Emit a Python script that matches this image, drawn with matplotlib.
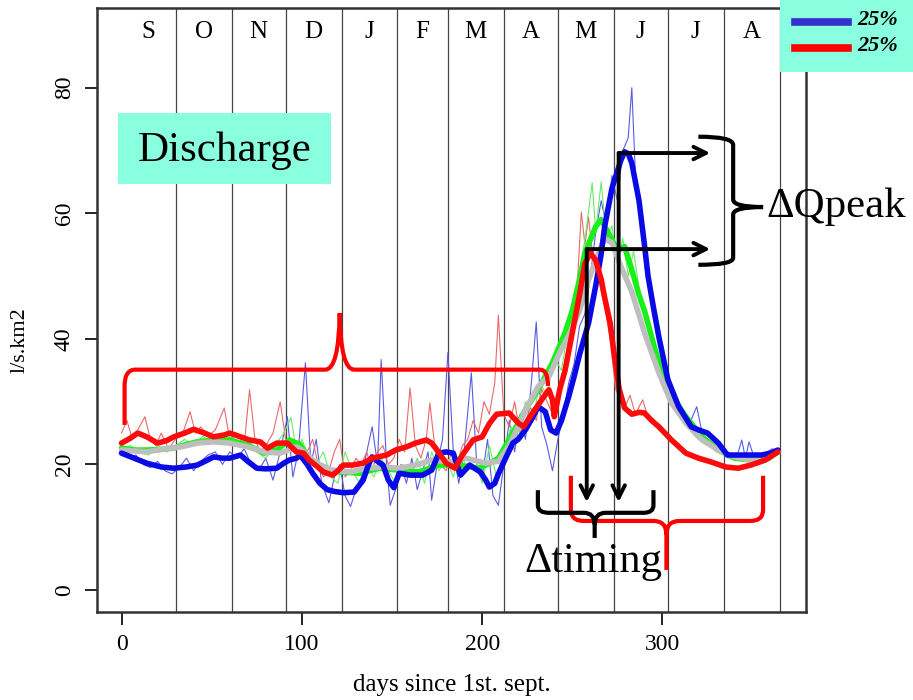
import matplotlib
matplotlib.use('Agg')
import matplotlib.pyplot as plt
from matplotlib.path import Path
from matplotlib.patches import PathPatch, Rectangle
from matplotlib.lines import Line2D

plt.rcParams['font.family'] = ['Liberation Serif', 'DejaVu Serif']

####################################################
# Data
####################################################
months = ['S', 'O', 'N', 'D', 'J', 'F', 'M', 'A', 'M', 'J', 'J', 'A']
month_ends = [30, 61, 91, 122, 153, 181, 212, 242, 273, 303, 334, 365]

# thick (smoothed) series
blue_days = [0, 7, 14, 22, 29, 36, 42, 47, 51, 56, 60, 66, 70, 75, 80, 86, 90, 93, 97, 99,
             103, 106, 110, 114, 118, 123, 129, 134, 137, 139, 142, 145, 148, 151, 154, 160,
             167, 172, 176, 180, 184, 186, 188, 193, 199, 202, 204, 207, 209, 213, 217, 220,
             224, 228, 231, 235, 238, 241, 244, 248, 251, 254, 259, 263, 266, 268, 272, 277,
             279, 281, 283, 287, 290, 292, 295, 298, 303, 309, 316, 320, 325, 331, 336, 346,
             355, 360, 364]
blue_vals = [21.8, 21.0, 20.2, 19.6, 19.4, 19.6, 19.9, 20.6, 21.2, 21.0, 21.0, 21.5, 20.5, 19.4,
             19.3, 19.4, 20.2, 20.7, 21.0, 21.5, 20.0, 18.6, 17.0, 16.0, 15.7, 15.5, 15.6, 17.5,
             20.0, 21.2, 20.5, 19.9, 17.5, 16.3, 18.6, 18.3, 18.3, 19.1, 21.8, 22.0, 21.8, 20.0,
             18.3, 19.9, 18.8, 17.5, 16.4, 17.0, 18.5, 21.0, 23.4, 24.0, 25.5, 27.5, 29.2, 28.4,
             25.5, 25.0, 27.0, 30.8, 34.0, 37.5, 42.5, 48.5, 53.5, 58.0, 64.0, 68.5, 69.8, 69.5,
             68.0, 62.0, 55.0, 50.0, 45.0, 40.3, 33.5, 29.2, 26.0, 25.5, 25.0, 23.4, 21.5, 21.5,
             21.5, 21.8, 22.3]

red_days = [0, 5, 9, 14, 20, 25, 29, 35, 40, 46, 51, 57, 60, 66, 71, 77, 81, 86, 92, 97, 101,
            104, 108, 112, 117, 120, 123, 128, 134, 139, 147, 152, 158, 163, 169, 172, 175, 180,
            185, 189, 195, 200, 204, 208, 215, 220, 223, 228, 233, 237, 239, 240, 243, 246, 250,
            254, 257, 260, 263, 266, 268, 271, 273, 276, 279, 283, 287, 290, 294, 298, 305, 313,
            320, 327, 335, 342, 349, 357, 364]
red_vals = [23.4, 24.2, 25.0, 24.4, 23.4, 23.8, 24.4, 25.0, 25.6, 25.0, 24.4, 24.7, 25.0, 24.4,
            23.9, 23.6, 22.6, 23.4, 23.4, 22.0, 21.8, 20.7, 19.8, 18.8, 18.3, 19.0, 19.9, 19.9,
            20.2, 21.0, 21.5, 22.3, 22.8, 23.4, 23.9, 23.4, 22.3, 20.2, 19.4, 21.5, 23.9, 24.4,
            26.5, 28.0, 28.2, 26.6, 26.0, 28.2, 30.3, 31.9, 30.3, 27.6, 31.9, 35.0, 41.0, 47.0,
            52.0, 53.7, 52.5, 49.5, 46.5, 42.5, 38.0, 32.0, 29.0, 28.0, 28.3, 28.2, 27.0, 26.0,
            23.9, 21.8, 21.0, 20.4, 19.6, 19.4, 19.9, 20.7, 22.0]

green_days = [0, 7, 14, 22, 29, 36, 42, 51, 60, 70, 79, 86, 93, 99, 104, 110, 121, 132, 143,
              154, 165, 176, 187, 198, 205, 209, 213, 217, 224, 231, 239, 246, 250, 254, 257,
              263, 266, 270, 273, 276, 279, 283, 287, 290, 296, 303, 313, 322, 331, 340, 349,
              359, 364]
green_vals = [22.6, 22.3, 22.3, 22.4, 22.6, 23.2, 23.6, 23.9, 23.9, 23.1, 21.8, 22.3, 23.9, 23.2,
              21.0, 19.4, 18.8, 18.6, 19.4, 19.1, 18.8, 19.9, 19.9, 19.4, 20.3, 21.0, 23.0, 25.0,
              28.7, 31.9, 36.2, 41.0, 44.5, 49.5, 53.7, 57.9, 59.0, 56.9, 55.2, 54.2, 54.7, 51.0,
              47.0, 44.5, 38.2, 31.9, 27.6, 24.4, 22.3, 21.0, 20.7, 21.0, 22.0]

gray_days = [0, 14, 24, 33, 42, 51, 60, 70, 79, 88, 97, 100, 108, 117, 127, 136, 145, 154, 163,
             172, 182, 191, 202, 209, 215, 220, 224, 231, 237, 243, 248, 254, 259, 265, 268, 272,
             277, 283, 290, 298, 305, 313, 322, 331, 340, 349, 359, 364]
gray_vals = [22.3, 22.0, 22.5, 22.8, 23.4, 23.6, 23.4, 22.8, 22.0, 21.8, 22.8, 22.3, 20.2, 19.1,
             18.8, 19.4, 19.6, 19.4, 19.9, 20.7, 20.4, 21.0, 20.2, 20.5, 23.0, 26.0, 28.7, 32.4,
             34.0, 37.8, 40.5, 44.5, 49.4, 54.0, 56.0, 55.3, 51.5, 47.5, 41.0, 34.6, 29.8, 26.6,
             23.9, 22.3, 21.2, 20.7, 21.2, 22.0]

# thin (daily) series
tblue_days = [0, 4, 8, 12, 16, 20, 24, 28, 32, 36, 40, 44, 48, 52, 56, 60, 64, 68, 72, 76, 80,
              84, 88, 92, 95, 98, 102, 105, 108, 111, 115, 118, 121, 124, 127, 130, 133, 136,
              139, 142, 144, 147, 149, 152, 155, 158, 161, 164, 167, 170, 172, 175, 178, 181,
              184, 187, 190, 194, 197, 200, 203, 206, 209, 212, 215, 218, 221, 224, 227, 230,
              233, 236, 239, 242, 245, 248, 251, 254, 257, 260, 263, 266, 269, 272, 275, 278,
              281, 283, 285, 288, 291, 294, 297, 300, 303, 306, 309, 312, 315, 319, 322, 326,
              330, 334, 338, 341, 344, 346, 348, 351, 355, 358, 361, 364]
tblue_vals = [22, 21, 21.5, 20, 19.5, 20.5, 19, 18.5, 19.5, 21, 19, 20.5, 21.5, 22, 20, 22, 21,
              22.5, 20, 19, 21, 17.5, 22, 27.6, 18, 22, 36.2, 20, 24, 17, 13.9, 18, 20, 15, 13.3,
              16, 18, 22, 26, 20, 36.7, 20, 13.5, 16, 20, 17, 21, 16, 19, 22, 14.3, 20, 24, 37.8,
              22, 17, 22, 34.6, 20, 18, 24, 15, 13.5, 20, 27, 22, 28, 24, 32, 42.7, 26, 23, 19,
              24, 28, 33, 36, 42, 44, 50, 57, 62, 58, 66, 62, 70, 72, 80, 66, 58, 50, 46, 42, 38,
              34, 31, 29, 27.5, 26.5, 29.2, 25, 24.5, 23.5, 22, 21.5, 21, 23.9, 21, 23.6, 21,
              21.5, 22, 22.5, 22]

tred_days = [0, 3, 6, 9, 13, 16, 19, 22, 26, 30, 34, 38, 41, 44, 48, 52, 57, 60, 64, 68, 71,
             74, 77, 80, 84, 88, 91, 94, 97, 100, 103, 106, 109, 112, 115, 118, 121, 124, 127,
             130, 133, 136, 139, 142, 145, 148, 151, 154, 157, 160, 163, 166, 169, 171, 174,
             177, 180, 183, 186, 189, 192, 195, 198, 201, 204, 207, 209, 212, 215, 218, 221,
             224, 227, 230, 233, 236, 239, 242, 245, 248, 251, 253, 255, 257, 259, 261, 263,
             265, 268, 271, 274, 277, 279, 282, 285, 289, 292, 295, 300, 304, 308, 312, 316,
             320, 325, 330, 335, 340, 345, 350, 355, 360, 364]
tred_vals = [25, 27, 24, 25.5, 27.6, 24, 23, 25, 22.5, 24, 25, 28.4, 25, 26, 24.5, 25.5, 29, 24,
             25, 23, 31.9, 24, 22, 23, 25, 30, 24, 22, 23.5, 21, 22, 24, 20, 18, 19, 22, 24, 18,
             19, 21, 20, 22, 19, 22, 23, 20, 21, 24, 22, 32.2, 23, 21, 24, 29.8, 22, 20, 19, 22,
             20, 23, 24, 27, 25, 30, 28, 33, 43.8, 28, 26, 30, 25, 27, 29, 27, 32, 30, 28, 31,
             35, 40, 44, 50, 60.2, 55, 59.4, 54, 52, 49, 45, 40, 32, 30, 29, 31, 28, 30.3, 27.5,
             26.5, 25, 24, 23, 22, 21.5, 21, 20.5, 20, 19.5, 19.3, 19.5, 19.8, 20.3, 21, 22]

tgreen_days = [0, 5, 10, 15, 20, 25, 30, 35, 40, 45, 50, 55, 60, 65, 70, 75, 80, 85, 90, 94,
               97, 100, 104, 108, 112, 116, 120, 124, 128, 132, 136, 140, 144, 148, 152, 156,
               160, 164, 168, 172, 176, 180, 184, 188, 192, 196, 200, 204, 208, 212, 216, 220,
               224, 228, 232, 236, 240, 244, 248, 252, 255, 258, 261, 263, 266, 269, 272, 275,
               278, 281, 284, 287, 290, 294, 298, 302, 306, 310, 314, 318, 322, 326, 330, 335,
               340, 345, 350, 355, 360, 364]
tgreen_vals = [22.5, 23, 22, 21.5, 23, 22, 23, 24, 23, 24.5, 23.5, 24, 25, 23, 24, 22, 21, 23,
               25, 27.5, 22, 24, 21, 20, 22, 18, 17, 22, 19, 17, 20, 18, 21, 19, 17, 20, 18, 21,
               17, 22, 19, 21, 18, 22, 19, 21, 17, 23, 18, 22, 26, 24, 30, 27, 33, 31, 37, 35, 42,
               46, 52, 58, 64.9, 57, 65, 56, 58, 52, 56, 50, 54, 48, 44, 40, 36, 32, 29, 27.5, 26,
               24.5, 23.5, 23, 22, 21.5, 21, 20.5, 20.5, 20.5, 21, 21.5]

legend_labels = ['25%', '25%']

####################################################
# Figure
####################################################
fig = plt.figure(figsize=(9.13, 7), dpi=100)
ax = fig.add_axes([97 / 913, 88 / 700, 709 / 913, 604 / 700])

for d in month_ends:
    ax.axvline(d, color='#444444', lw=0.9, zorder=1)
mid = [0] + month_ends
for i, m in enumerate(months):
    ax.text((mid[i] + mid[i + 1]) / 2, 88.8, m, ha='center', va='center', fontsize=18, zorder=2)

ax.plot(tblue_days, tblue_vals, color='#5a5ae6', lw=0.8, zorder=3)
ax.plot(tred_days, tred_vals, color='#e86a6a', lw=0.8, zorder=3)
ax.plot(tgreen_days, tgreen_vals, color='#66ee66', lw=0.8, zorder=3)

ax.plot(green_days, green_vals, color='#19f019', lw=4, zorder=4, solid_capstyle='round')
ax.plot(gray_days, gray_vals, color='#bebebe', lw=4, zorder=5, solid_capstyle='round')
ax.plot(blue_days, blue_vals, color='#0a0ae6', lw=4, zorder=6, solid_capstyle='round')
ax.plot(red_days, red_vals, color='#ff0a0a', lw=4, zorder=7, solid_capstyle='round')

ax.set_xlim(-13.6, 379.6)
ax.set_ylim(-3.5, 92.7)
ax.set_xticks([0, 100, 200, 300])
ax.set_yticks([0, 20, 40, 60, 80])
ax.tick_params(labelsize=17, length=9, width=1.2, pad=7)
for lab in ax.get_yticklabels():
    lab.set_rotation(90)
    lab.set_va('center')
for s in ax.spines.values():
    s.set_linewidth(1.8)
    s.set_color('#333333')
ax.set_xlabel('days since 1st. sept.', fontsize=18, va='center')
ax.xaxis.set_label_coords(0.5, -0.121)
ax.set_ylabel('l/s.km2', fontsize=16, va='center')
ax.yaxis.set_label_coords(-0.1086, 0.45)


####################################################
# Annotations
####################################################
M, L, C = Path.MOVETO, Path.LINETO, Path.CURVE3


def draw_path(pts, codes, color, lw):
    ax.add_patch(PathPatch(Path(pts, codes), fill=False, edgecolor=color, lw=lw,
                           zorder=9, clip_on=False, capstyle='butt'))


# red brace over the winter period
draw_path([(1.7, 26.3), (1.7, 32.5), (1.7, 35.1), (7.7, 35.1), (113, 35.1), (120.5, 35.1),
           (121, 44.1), (121.5, 35.1), (129, 35.1), (232, 35.1), (236.5, 35.1), (236.5, 32.5)],
          [M, L, C, C, L, C, C, C, C, L, C, C], 'red', 3)

# red brace under the melt period
draw_path([(249.2, 18.2), (249.2, 12.8), (249.2, 11.0), (256.4, 11.0), (295, 11.0),
           (302.2, 11.0), (302.2, 8.8), (302.2, 3.2),
           (302.2, 8.8), (302.2, 11.0), (309.4, 11.0), (348.6, 11.0), (355.8, 11.0),
           (355.8, 12.8), (355.8, 18.2)],
          [M, L, C, C, L, C, C, L, M, C, C, L, C, C, L], 'red', 3)

# black brace (timing)
draw_path([(230.9, 15.9), (230.9, 13.5), (230.9, 12.3), (237, 12.3), (256.4, 12.3),
           (262.4, 12.3), (262.4, 10.4), (262.4, 8.3),
           (262.4, 10.4), (262.4, 12.3), (268.5, 12.3), (289.5, 12.3), (295, 12.3),
           (295, 13.5), (295, 15.9)],
          [M, L, C, C, L, C, C, L, M, C, C, L, C, C, L], 'black', 3)

# black brace (peak)
draw_path([(319.9, 72.2), (339.2, 72.2), (339.2, 70.9), (339.2, 62.2), (339.2, 61.0),
           (355.8, 61.0), (339.2, 61.0), (339.2, 59.8), (339.2, 52.9), (339.2, 51.8),
           (319.9, 51.8)],
          [M, C, C, L, C, C, C, C, L, C, C], 'black', 3)

arrow = dict(arrowstyle='->,head_length=0.9,head_width=0.45', lw=2.8, color='black',
             shrinkA=0, shrinkB=0)
ax.annotate('', xy=(326.5, 69.6), xytext=(275.7, 69.6), arrowprops=arrow, zorder=10)
ax.annotate('', xy=(326.5, 54.3), xytext=(258.0, 54.3), arrowprops=arrow, zorder=10)
ax.annotate('', xy=(275.7, 14.0), xytext=(275.7, 69.6), arrowprops=arrow, zorder=10)
ax.annotate('', xy=(258.0, 14.0), xytext=(258.0, 54.3), arrowprops=arrow, zorder=10)

ax.text(357.5, 61.0, '\u0394Qpeak', fontsize=31, ha='left', va='center', zorder=11,
        clip_on=False)
ax.text(223.5, 4.5, '\u0394timing', fontsize=30.5, ha='left', va='center', zorder=11)

ax.add_patch(Rectangle((-1.7, 64.7), 117.7, 11.2, facecolor='#8affdf', edgecolor='none',
                       zorder=8))
ax.text(57, 70.0, 'Discharge', fontsize=31, ha='center', va='center', zorder=9)

# legend box in the corner
fig.add_artist(Rectangle((780 / 913, 628 / 700), 133 / 913, 72 / 700,
                         transform=fig.transFigure, facecolor='#8affdf', edgecolor='none'))
for yy, col, lab in zip([678, 652], ['#3333cc', '#ff0000'], legend_labels):
    fig.add_artist(Line2D([795 / 913, 848 / 913], [yy / 700, yy / 700],
                          transform=fig.transFigure, color=col, lw=5.5))
    fig.text(857 / 913, (yy + 2) / 700, lab, fontsize=16, fontweight='bold', style='italic',
             va='center', ha='left')

fig.savefig('out.png', dpi=100)
